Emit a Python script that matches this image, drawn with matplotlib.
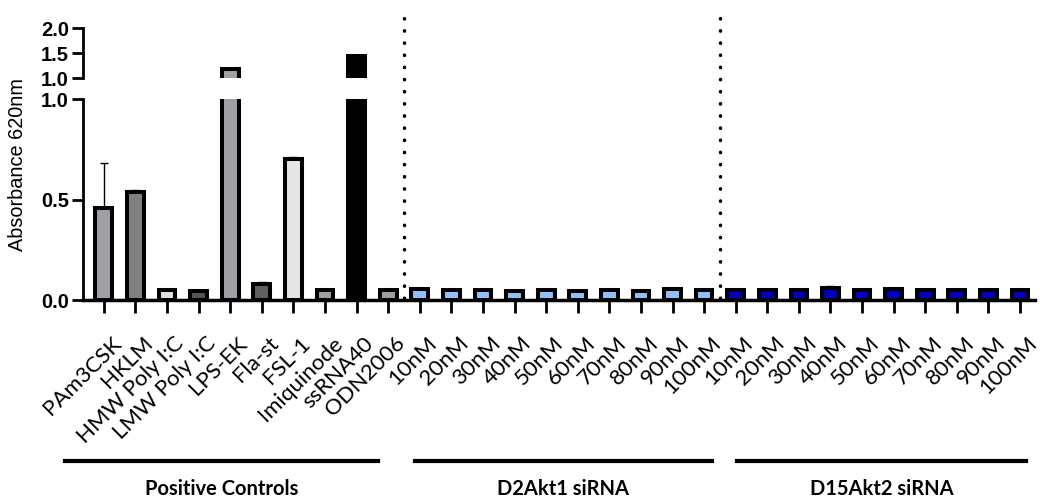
import numpy as np
import matplotlib.pyplot as plt
from matplotlib import transforms
from matplotlib.lines import Line2D

# data
labels = ['PAm3CSK', 'HKLM', 'HMW Poly I:C', 'LMW Poly I:C', 'LPS-EK', 'Fla-st', 'FSL-1',
          'Imiquinode', 'ssRNA40', 'ODN2006']
conc = ['10nM', '20nM', '30nM', '40nM', '50nM', '60nM', '70nM', '80nM', '90nM', '100nM']
labels = labels + conc + conc

ctrl_vals = [0.46, 0.54, 0.05, 0.045, 1.18, 0.08, 0.70, 0.05, 1.45, 0.05]
ctrl_err = [0.22, 0.006, 0.003, 0.003, 0.02, 0.012, 0.01, 0.003, 0.005, 0.003]
akt1_vals = [0.055, 0.05, 0.05, 0.045, 0.05, 0.045, 0.05, 0.045, 0.055, 0.05]
akt1_err = [0.004, 0.006, 0.003, 0.004, 0.003, 0.004, 0.003, 0.003, 0.004, 0.003]
akt2_vals = [0.05, 0.05, 0.05, 0.06, 0.05, 0.055, 0.05, 0.05, 0.05, 0.05]
akt2_err = [0.003, 0.003, 0.003, 0.008, 0.003, 0.003, 0.003, 0.003, 0.003, 0.003]

ctrl_cols = ['#A0A0A4', '#808080', '#E0E0E0', '#555555', '#A0A0A4', '#606060', '#E6E6E6',
             '#A0A0A4', '#000000', '#A0A0A4']
akt1_col = '#8FC1F7'
akt2_col = '#0000C0'

groups = ['Positive Controls', 'D2Akt1 siRNA', 'D15Akt2 siRNA']

vals = np.array(ctrl_vals + akt1_vals + akt2_vals)
errs = np.array(ctrl_err + akt1_err + akt2_err)
cols = ctrl_cols + [akt1_col] * 10 + [akt2_col] * 10
x = np.arange(len(vals))

fig = plt.figure(figsize=(10.4, 5.01), dpi=100)
ax_top = fig.add_axes([0.0798, 0.844, 0.915, 0.100])
ax = fig.add_axes([0.0798, 0.401, 0.915, 0.401])

for a in (ax, ax_top):
    a.errorbar(x, vals, yerr=[np.zeros_like(errs), errs], fmt='none', ecolor='black',
               elinewidth=1.0, capsize=3, capthick=1.0, zorder=1)
    a.bar(x, vals, width=0.53, color=cols, edgecolor='black', linewidth=2.9, zorder=2)
    a.set_xlim(-0.66, 29.46)
    for s in ['top', 'right']:
        a.spines[s].set_visible(False)
    a.spines['left'].set_linewidth(2)
    a.tick_params(axis='y', width=2, length=8, pad=2)

ax.set_ylim(0, 1.0)
ax.set_yticks([0.0, 0.5, 1.0])
ax.set_yticklabels(['0.0', '0.5', '1.0'], fontweight='bold', family='Liberation Sans',
                   fontsize=14.5)
ax.spines['bottom'].set_linewidth(2.5)
ax.set_xticks(x)
ax.set_xticklabels(labels, rotation=45, ha='right', rotation_mode='anchor',
                   family='Lato', fontsize=16)
ax.tick_params(axis='x', width=2, length=9, pad=4)
shift = transforms.ScaledTranslation(0.07, -0.15, fig.dpi_scale_trans)
for lbl in ax.get_xticklabels():
    lbl.set_transform(lbl.get_transform() + shift)

ax_top.set_ylim(1.0, 2.0)
ax_top.set_yticks([1.0, 1.5, 2.0])
ax_top.set_yticklabels(['1.0', '1.5', '2.0'], fontweight='bold', family='Liberation Sans',
                       fontsize=14.5)
ax_top.spines['bottom'].set_visible(False)
ax_top.set_xticks([])

fig.text(0.017, 0.671, 'Absorbance 620nm', rotation=90, ha='center', va='center',
         fontsize=14.3, family='Liberation Sans')

# dotted separators
trans = transforms.blended_transform_factory(ax.transData, fig.transFigure)
for xs in [9.5, 19.5]:
    fig.add_artist(Line2D([xs, xs], [0.405, 0.985], transform=trans, color='black',
                          lw=2.5, linestyle=(0, (0.1, 3.4)), dash_capstyle='round'))

# group bars and labels
spans = [(-1.23, 8.67), (9.84, 19.24), (20.03, 29.2)]
for (a0, a1), g in zip(spans, groups):
    fig.add_artist(Line2D([a0, a1], [0.079, 0.079], transform=trans, color='black', lw=3))
    fig.text((a0 + a1) / 2, 0.012, g, transform=trans, ha='center', va='baseline',
             fontsize=14.5, fontweight='bold', family='Lato')

fig.savefig('out.png', dpi=100)
